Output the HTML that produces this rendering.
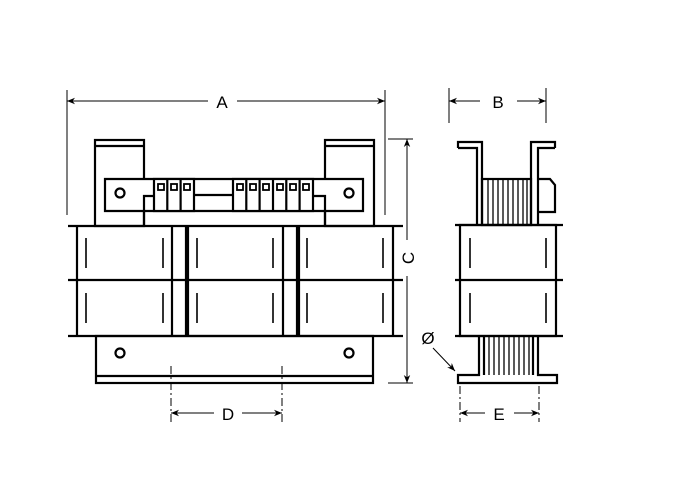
<!DOCTYPE html>
<html><head><style>body{margin:0;background:#fff}svg{display:block}text{font-family:"Liberation Sans",sans-serif;font-size:17px}</style></head><body>
<svg width="674" height="480" viewBox="0 0 674 480" xmlns="http://www.w3.org/2000/svg">
<defs><marker id="ar" viewBox="0 0 10 10" refX="10" refY="5" markerWidth="14" markerHeight="8" orient="auto-start-reverse" markerUnits="userSpaceOnUse"><path d="M0,1 L10,5 L0,9 L3,5 z" fill="#000"/></marker></defs>
<g fill="none" stroke="#000" stroke-width="2.2">
<rect x="95" y="140" width="49" height="86" fill="#fff"/>
<line x1="95" y1="146" x2="144" y2="146"/>
<rect x="325" y="140" width="49" height="86" fill="#fff"/>
<line x1="325" y1="146" x2="374" y2="146"/>
<path d="M105,179 H363 V211 H105 Z" fill="#fff"/>
<path d="M144,226 V196 H154 M325,226 V196 H313" />
<line x1="194" y1="195" x2="233" y2="195"/>
<circle cx="120" cy="193" r="4.5"/><circle cx="349" cy="193" r="4.5"/>
<rect x="154" y="179" width="40" height="32" fill="#fff"/>
<rect x="233" y="179" width="80" height="32" fill="#fff"/>
<line x1="167.3" y1="179" x2="167.3" y2="211"/><line x1="180.6" y1="179" x2="180.6" y2="211"/>
<line x1="246.3" y1="179" x2="246.3" y2="211"/><line x1="259.6" y1="179" x2="259.6" y2="211"/><line x1="273" y1="179" x2="273" y2="211"/><line x1="286.3" y1="179" x2="286.3" y2="211"/><line x1="299.6" y1="179" x2="299.6" y2="211"/>
</g>
<g fill="none" stroke="#000" stroke-width="1.8">
<rect x="158" y="184" width="6" height="6"/><rect x="171" y="184" width="6" height="6"/><rect x="184" y="184" width="6" height="6"/>
<rect x="237" y="184" width="6" height="6"/><rect x="250" y="184" width="6" height="6"/><rect x="263" y="184" width="6" height="6"/><rect x="277" y="184" width="6" height="6"/><rect x="290" y="184" width="6" height="6"/><rect x="303" y="184" width="6" height="6"/>
</g>
<g fill="none" stroke="#000" stroke-width="2.2">
<line x1="68" y1="226" x2="403" y2="226"/><line x1="68" y1="280" x2="403" y2="280"/><line x1="68" y1="336" x2="403" y2="336"/>
<line x1="77" y1="226" x2="77" y2="336"/><line x1="172" y1="226" x2="172" y2="336"/><line x1="186" y1="226" x2="186" y2="336"/>
<line x1="188" y1="226" x2="188" y2="336"/><line x1="283" y1="226" x2="283" y2="336"/><line x1="297" y1="226" x2="297" y2="336"/>
<line x1="299" y1="226" x2="299" y2="336"/><line x1="393" y1="226" x2="393" y2="336"/>
<rect x="96" y="336" width="277" height="47"/>
<line x1="96" y1="376" x2="373" y2="376"/>
<circle cx="120" cy="353" r="4.5"/><circle cx="349" cy="353" r="4.5"/>
</g>
<g stroke="#000" stroke-width="1.6">
<line x1="86" y1="238" x2="86" y2="268"/><line x1="163" y1="238" x2="163" y2="268"/><line x1="197" y1="238" x2="197" y2="268"/><line x1="273" y1="238" x2="273" y2="268"/><line x1="307" y1="238" x2="307" y2="268"/><line x1="383" y1="238" x2="383" y2="268"/>
<line x1="86" y1="293" x2="86" y2="323"/><line x1="163" y1="293" x2="163" y2="323"/><line x1="197" y1="293" x2="197" y2="323"/><line x1="273" y1="293" x2="273" y2="323"/><line x1="307" y1="293" x2="307" y2="323"/><line x1="383" y1="293" x2="383" y2="323"/>
<line x1="470" y1="238" x2="470" y2="268"/><line x1="546" y1="238" x2="546" y2="268"/><line x1="470" y1="293" x2="470" y2="323"/><line x1="546" y1="293" x2="546" y2="323"/>
</g>
<g stroke="#000" stroke-width="1">
<line x1="67" y1="90" x2="67" y2="215"/><line x1="385" y1="90" x2="385" y2="215"/>
<line x1="67" y1="101" x2="208" y2="101" marker-start="url(#ar)"/><line x1="237" y1="101" x2="385" y2="101" marker-end="url(#ar)"/>
<line x1="388" y1="139" x2="413" y2="139"/><line x1="388" y1="383" x2="413" y2="383"/>
<line x1="407" y1="139" x2="407" y2="240" marker-start="url(#ar)"/><line x1="407" y1="276" x2="407" y2="383" marker-end="url(#ar)"/>
<line x1="171" y1="366" x2="171" y2="422" stroke-dasharray="8,3,2,3"/><line x1="282" y1="366" x2="282" y2="422" stroke-dasharray="8,3,2,3"/>
<line x1="171" y1="413" x2="214" y2="413" marker-start="url(#ar)"/><line x1="242" y1="413" x2="282" y2="413" marker-end="url(#ar)"/>
<line x1="449" y1="88" x2="449" y2="123"/><line x1="546" y1="88" x2="546" y2="123"/>
<line x1="449" y1="101" x2="480" y2="101" marker-start="url(#ar)"/><line x1="517" y1="101" x2="546" y2="101" marker-end="url(#ar)"/>
<line x1="460" y1="386" x2="460" y2="422" stroke-dasharray="8,3,2,3"/><line x1="539" y1="386" x2="539" y2="422" stroke-dasharray="8,3,2,3"/>
<line x1="460" y1="413" x2="485" y2="413" marker-start="url(#ar)"/><line x1="514" y1="413" x2="539" y2="413" marker-end="url(#ar)"/>
<line x1="433" y1="348" x2="455" y2="371" marker-end="url(#ar)"/>
</g>
<text x="222" y="108" text-anchor="middle">A</text>
<text x="498" y="108" text-anchor="middle">B</text>
<text x="228" y="420" text-anchor="middle">D</text>
<text x="499" y="420" text-anchor="middle">E</text>
<text x="428" y="344" text-anchor="middle">Ø</text>
<text transform="translate(414,258) rotate(-90)" text-anchor="middle">C</text>
<g fill="none" stroke="#000" stroke-width="2.2">
<path d="M458,148 V142 H482 V225 M477,225 V148 H458"/>
<path d="M555,148 V142 H531 V225 M538,225 V148 H555"/>
<rect x="482" y="179" width="49" height="46"/>
<path d="M538,179 H550 L555,185 V212 H538"/>
<rect x="460" y="225" width="96" height="111"/>
<line x1="455" y1="225" x2="563" y2="225"/><line x1="455" y1="280" x2="563" y2="280"/><line x1="455" y1="336" x2="563" y2="336"/>
<path d="M479,336 V375 H458 V383 H557 V375 H538 V336"/>
<line x1="484" y1="336" x2="484" y2="375"/><line x1="533" y1="336" x2="533" y2="375"/>
</g>
<g stroke="#000" stroke-width="1.3">
<line x1="488" y1="179" x2="488" y2="225"/><line x1="493" y1="179" x2="493" y2="225"/><line x1="498" y1="179" x2="498" y2="225"/><line x1="503" y1="179" x2="503" y2="225"/><line x1="508" y1="179" x2="508" y2="225"/><line x1="513" y1="179" x2="513" y2="225"/><line x1="518" y1="179" x2="518" y2="225"/><line x1="523" y1="179" x2="523" y2="225"/><line x1="527" y1="179" x2="527" y2="225"/>
<line x1="489" y1="336" x2="489" y2="375"/><line x1="494" y1="336" x2="494" y2="375"/><line x1="499" y1="336" x2="499" y2="375"/><line x1="504" y1="336" x2="504" y2="375"/><line x1="509" y1="336" x2="509" y2="375"/><line x1="514" y1="336" x2="514" y2="375"/><line x1="519" y1="336" x2="519" y2="375"/><line x1="524" y1="336" x2="524" y2="375"/><line x1="529" y1="336" x2="529" y2="375"/>
</g>
</svg>
</body></html>
